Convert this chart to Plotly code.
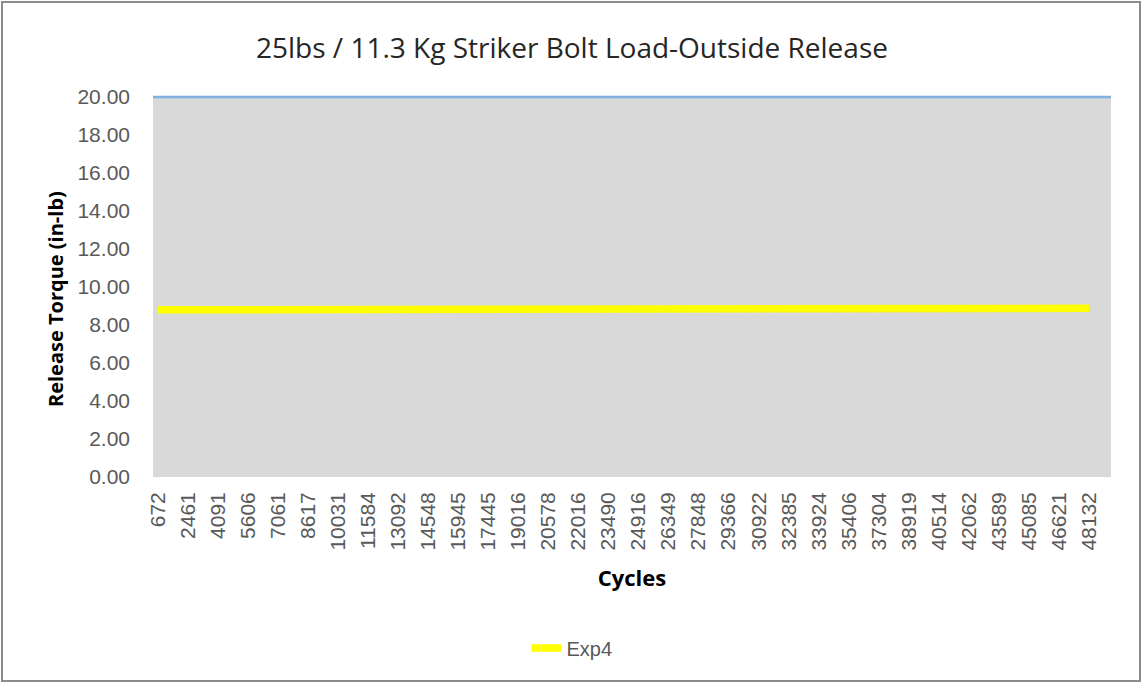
import plotly.graph_objects as go

# ---- data ----
cycles = ["672", "2461", "4091", "5606", "7061", "8617", "10031", "11584",
          "13092", "14548", "15945", "17445", "19016", "20578", "22016", "23490",
          "24916", "26349", "27848", "29366", "30922", "32385", "33924", "35406",
          "37304", "38919", "40514", "42062", "43589", "45085", "46621", "48132"]
exp4 = [8.80, 8.80, 8.80, 8.80, 8.81, 8.81, 8.81, 8.81,
        8.83, 8.83, 8.83, 8.83, 8.84, 8.84, 8.84, 8.84,
        8.85, 8.85, 8.85, 8.85, 8.86, 8.86, 8.86, 8.86,
        8.87, 8.87, 8.87, 8.88, 8.88, 8.88, 8.88, 8.88]
upper_limit = 20.0
y_min, y_max = 0, 20
y_ticks = [0, 2, 4, 6, 8, 10, 12, 14, 16, 18, 20]

W, H = 1144, 683
L, R, T, B = 153, 33, 97, 206
pw, ph = W - L - R, H - T - B

fig = go.Figure()
fig.add_trace(go.Scatter(
    x=cycles, y=exp4, mode="lines", name="Exp4",
    line=dict(color="#FFFF00", width=7.5),
))

# upper limit line (paper-referenced so it is not clipped at the plot edge)
limit_frac = (upper_limit - y_min) / (y_max - y_min)
fig.add_shape(type="line", xref="paper", yref="paper", x0=0, x1=1,
              y0=limit_frac, y1=limit_frac,
              line=dict(color="#7EB0E0", width=2.5), layer="above")
# outer chart border
fig.add_shape(type="rect", xref="paper", yref="paper",
              x0=(2 - L) / pw, x1=(1140 - L) / pw,
              y0=(H - B - 681) / ph, y1=(H - B - 2) / ph,
              line=dict(color="#8C8C8C", width=2), fillcolor="rgba(0,0,0,0)")

# y-axis title as annotation (placed like the reference)
fig.add_annotation(text="<b>Release Torque (in-lb)</b>", textangle=-90,
                   xref="paper", yref="paper",
                   x=(55 - L) / pw, y=(H - B - 299) / ph,
                   xanchor="center", yanchor="middle", showarrow=False,
                   font=dict(family="Open Sans", size=20, color="#000000"))

fig.update_layout(
    width=W, height=H,
    margin=dict(l=L, r=R, t=T, b=B, autoexpand=False),
    paper_bgcolor="white", plot_bgcolor="#D9D9D9",
    title=dict(text="25lbs / 11.3 Kg Striker Bolt Load-Outside Release",
               x=0.5, xref="container", xanchor="center",
               y=1 - 48 / H, yanchor="middle",
               font=dict(family="Open Sans", size=28, color="#262626")),
    showlegend=True,
    legend=dict(orientation="h", x=0.5, xanchor="center", xref="container",
                y=1 - 648 / H, yanchor="middle", yref="container",
                font=dict(family="Liberation Sans", size=20, color="#595959")),
    xaxis=dict(type="category", range=[-0.167, 31.73], tickangle=-90,
               showgrid=False, zeroline=False, showline=False, ticks="",
               ticklabelstandoff=10,
               tickfont=dict(family="Liberation Sans", size=21, color="#595959"),
               title=dict(text="<b>Cycles</b>", standoff=20,
                          font=dict(family="Open Sans", size=22, color="#000000"))),
    yaxis=dict(range=[y_min, y_max], tickvals=y_ticks, tickformat=".2f",
               showgrid=False, zeroline=False, showline=False, ticks="",
               ticklabelstandoff=22,
               tickfont=dict(family="Liberation Sans", size=21, color="#595959")),
)

fig.write_html("out.html", config={"displayModeBar": False},
               post_script="document.body.style.margin='0';document.body.style.overflow='hidden';")
